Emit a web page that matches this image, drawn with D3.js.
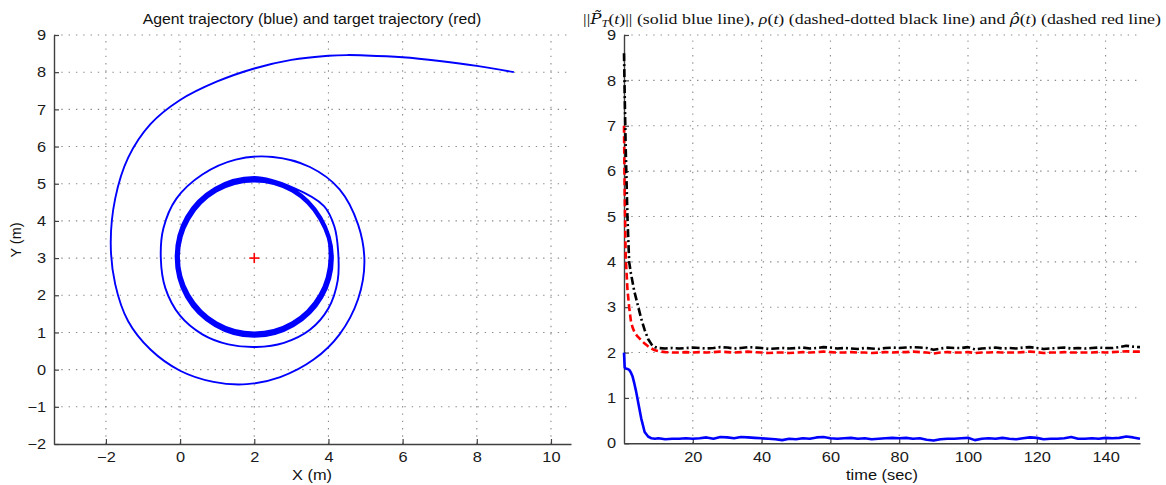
<!DOCTYPE html>
<html>
<head>
<meta charset="utf-8">
<script src="https://cdn.jsdelivr.net/npm/d3@7"></script>
<style>
  html, body { margin: 0; padding: 0; background: #fff; }
  svg { display: block; }
  .tick text { font-family: "Liberation Sans", Arial, sans-serif; font-size: 14.5px; fill: #1a1a1a; }
</style>
</head>
<body>
<svg id="chart" width="1166" height="485"></svg>
<script>
// ---- Left panel: agent trajectory (x, y in metres), counter-clockwise spiral onto the circle
const spiralX = [9.0, 8.0, 7.0, 6.0, 5.0, 4.5, 4.0, 3.0, 2.0, 1.0, 0.0, -0.8, -1.4, -1.75, -1.87, -1.75, -1.4, -0.8, 0.0, 0.9, 1.8, 2.7, 3.6, 4.3, 4.8, 4.97, 4.8, 4.3, 3.5, 2.5, 1.5, 0.6, -0.1, -0.45, -0.52, -0.4, 0.0, 0.6, 1.3, 2.05, 2.8, 3.5, 4.0, 4.25, 4.26, 4.16, 3.88];
const spiralY = [8.0, 8.17, 8.3, 8.4, 8.45, 8.46, 8.44, 8.33, 8.1, 7.75, 7.25, 6.6, 5.7, 4.6, 3.4, 2.3, 1.3, 0.54, -0.03, -0.33, -0.39, -0.2, 0.27, 0.95, 1.9, 2.9, 3.9, 4.85, 5.45, 5.72, 5.65, 5.25, 4.6, 3.8, 3.0, 2.2, 1.45, 0.95, 0.68, 0.61, 0.72, 1.07, 1.65, 2.4, 3.2, 3.85, 4.4];
// laps around the target once the agent has converged
const lapX = [
  [3.06, 2.0, 0.94, 0.164, -0.12, 0.164, 0.94, 2.0, 3.06, 3.836, 4.12],
  [3.81, 3.045, 2.0, 0.955, 0.19, -0.09, 0.19, 0.955, 2.0, 3.045, 3.81, 4.09],
  [3.784, 3.03, 2.0, 0.97, 0.216, -0.06, 0.216, 0.97, 2.0, 3.03, 3.784, 4.06],
  [3.758, 3.015, 2.0, 0.985, 0.242, -0.03, 0.242, 0.985, 2.0, 3.015, 3.758, 4.03],
  [3.80, 3.04, 2.0, 0.96, 0.20, -0.08, 0.20, 0.96, 2.0, 3.04, 3.80, 4.08]
];
const lapY = [
  [4.89, 5.18, 4.89, 4.12, 3.03, 1.94, 1.17, 0.88, 1.17, 1.94, 3.03],
  [4.09, 4.86, 5.14, 4.86, 4.09, 3.03, 1.97, 1.2, 0.92, 1.2, 1.97, 3.03],
  [4.06, 4.82, 5.1, 4.82, 4.06, 3.03, 2.0, 1.24, 0.96, 1.24, 2.0, 3.03],
  [4.04, 4.79, 5.06, 4.79, 4.04, 3.03, 2.02, 1.27, 1.0, 1.27, 2.02, 3.03],
  [4.08, 4.85, 5.12, 4.85, 4.08, 3.03, 1.98, 1.21, 0.93, 1.21, 1.98, 3.03]
];
const targetX = [2];
const targetY = [3];
const leftXTicks = [-2, 0, 2, 4, 6, 8, 10];
const leftYTicks = [-2, -1, 0, 1, 2, 3, 4, 5, 6, 7, 8, 9];

// ---- Right panel: time histories
const time = [0, 0.2, 0.5, 1, 1.5, 2, 2.5, 3, 3.5, 4, 5, 6, 7, 8, 9, 10,
  12, 14, 16, 18, 20, 22, 24, 26, 28, 30, 32, 34, 36, 38, 40, 42, 44, 46, 48, 50,
  52, 54, 56, 58, 60, 62, 64, 66, 68, 70, 72, 74, 76, 78, 80, 82, 84, 86, 88, 90,
  92, 94, 96, 98, 100, 102, 104, 106, 108, 110, 112, 114, 116, 118, 120, 122, 124, 126, 128, 130,
  132, 134, 136, 138, 140, 142, 144, 146, 148, 150];
const errNorm = [2.0, 1.67, 1.65, 1.64, 1.62, 1.56, 1.47, 1.32, 1.15, 0.95, 0.55, 0.25, 0.15, 0.11, 0.1, 0.11,
  0.09, 0.1, 0.1, 0.11, 0.1, 0.11, 0.13, 0.1, 0.14, 0.13, 0.11, 0.14, 0.13, 0.12, 0.11, 0.1, 0.09, 0.07, 0.1, 0.09,
  0.11, 0.1, 0.13, 0.14, 0.11, 0.1, 0.11, 0.12, 0.1, 0.11, 0.09, 0.1, 0.11, 0.12, 0.11, 0.12, 0.1, 0.11, 0.08, 0.06,
  0.09, 0.1, 0.1, 0.11, 0.12, 0.07, 0.1, 0.11, 0.1, 0.12, 0.1, 0.09, 0.11, 0.13, 0.12, 0.09, 0.1, 0.1, 0.11, 0.14,
  0.1, 0.1, 0.11, 0.1, 0.12, 0.11, 0.12, 0.15, 0.13, 0.1];
const rho = [8.6, 7.7, 6.5, 5.0, 4.0, 3.75, 3.55, 3.35, 3.2, 3.05, 2.75, 2.5, 2.3, 2.18, 2.12, 2.1,
  2.09, 2.1, 2.09, 2.1, 2.11, 2.1, 2.09, 2.1, 2.12, 2.11, 2.09, 2.1, 2.12, 2.11, 2.1, 2.08, 2.09, 2.1, 2.09, 2.1,
  2.11, 2.09, 2.1, 2.12, 2.11, 2.09, 2.1, 2.09, 2.08, 2.1, 2.09, 2.08, 2.1, 2.11, 2.1, 2.11, 2.12, 2.11, 2.1, 2.06,
  2.09, 2.11, 2.1, 2.1, 2.12, 2.07, 2.09, 2.1, 2.11, 2.09, 2.1, 2.09, 2.11, 2.12, 2.1, 2.08, 2.09, 2.1, 2.11, 2.09,
  2.1, 2.09, 2.1, 2.11, 2.1, 2.1, 2.12, 2.15, 2.13, 2.12];
const rhoHat = [7.0, 5.5, 4.1, 3.4, 3.0, 2.7, 2.55, 2.46, 2.4, 2.35, 2.27, 2.2, 2.14, 2.09, 2.05, 2.03,
  2.01, 2.0, 2.0, 2.01, 2.0, 2.01, 2.0, 2.01, 2.02, 2.01, 2.0, 2.01, 2.02, 2.01, 2.0, 1.99, 2.0, 2.0, 1.99, 2.0,
  2.01, 2.0, 2.01, 2.02, 2.01, 2.0, 2.0, 2.01, 2.0, 2.0, 1.99, 2.0, 2.01, 2.0, 2.01, 2.01, 2.02, 2.01, 2.0, 1.98,
  2.0, 2.01, 2.0, 2.0, 2.01, 1.99, 2.0, 2.0, 2.01, 2.0, 2.0, 2.0, 2.01, 2.02, 2.01, 1.99, 2.0, 2.0, 2.01, 2.0,
  2.0, 2.0, 2.0, 2.01, 2.0, 2.01, 2.02, 2.03, 2.02, 2.02];
const rightXTicks = [20, 40, 60, 80, 100, 120, 140];
const rightYTicks = [0, 1, 2, 3, 4, 5, 6, 7, 8, 9];

const svg = d3.select("#chart");
const axisColor = "#404040";
const sans = "Liberation Sans, Arial, sans-serif";
const stretch = 1.13;   // the figure's lettering is slightly wide

function drawFrame(g, x, y, xTicks, yTicks) {
  const [x0, x1] = x.range();
  const [y0, y1] = y.range();
  // dotted grid
  const grid = g.append("g").attr("stroke", "#8a8a8a").attr("stroke-width", 1.1)
    .attr("stroke-dasharray", "1.4,5.9").attr("fill", "none");
  grid.selectAll("line.v").data(xTicks).join("line").attr("class", "v")
    .attr("x1", d => x(d)).attr("x2", d => x(d)).attr("y1", y0).attr("y2", y1);
  grid.selectAll("line.h").data(yTicks.filter(d => y(d) < y0 - 0.5)).join("line").attr("class", "h")
    .attr("x1", x0).attr("x2", x1).attr("y1", d => y(d)).attr("y2", d => y(d));

  const fmt = d => d < 0 ? "\u2212" + Math.abs(d) : d;
  const xa = g.append("g").attr("transform", `translate(0,${y0})`)
    .call(d3.axisBottom(x).tickValues(xTicks).tickSizeInner(-5).tickSizeOuter(0).tickPadding(8).tickFormat(fmt));
  const ya = g.append("g").attr("transform", `translate(${x0},0)`)
    .call(d3.axisLeft(y).tickValues(yTicks).tickSizeInner(-5).tickSizeOuter(0).tickPadding(7).tickFormat(fmt));
  [xa, ya].forEach(a => {
    a.select(".domain").attr("stroke", axisColor).attr("stroke-width", 1.4);
    a.selectAll(".tick line").attr("stroke", axisColor).attr("stroke-width", 1.2);
    a.selectAll(".tick text").attr("transform", `scale(${stretch},1)`);
  });
}

function label(g, x, y, txt, rotate) {
  return g.append("text")
    .attr("transform", `translate(${x},${y})` + (rotate ? ` rotate(${rotate})` : ` scale(${stretch},1)`))
    .attr("text-anchor", "middle").attr("font-family", sans).attr("font-size", 14.5).attr("fill", "#111")
    .text(txt);
}

// ---------------- Left panel ----------------
const xL = d3.scaleLinear().domain([-3.4, 10.54]).range([54, 571]);
const yL = d3.scaleLinear().domain([-2, 9]).range([444, 35]);
const gL = svg.append("g");
drawFrame(gL, xL, yL, leftXTicks, leftYTicks);

const pathPts = spiralX.map((v, i) => [v, spiralY[i]]);
lapX.forEach((lx, k) => lx.forEach((v, i) => pathPts.push([v, lapY[k][i]])));
gL.append("path")
  .datum(pathPts)
  .attr("fill", "none").attr("stroke", "#0000ff").attr("stroke-width", 1.9)
  .attr("stroke-linejoin", "round")
  .attr("d", d3.line().x(d => xL(d[0])).y(d => yL(d[1])).curve(d3.curveCatmullRom.alpha(0.5)));

// target marker
gL.selectAll("g.target").data(targetX.map((v, i) => [v, targetY[i]])).join("g")
  .attr("class", "target")
  .attr("transform", d => `translate(${xL(d[0])},${yL(d[1])})`)
  .attr("stroke", "#ff0000").attr("stroke-width", 1.6)
  .each(function () {
    const t = d3.select(this);
    t.append("line").attr("x1", -5).attr("x2", 5).attr("y1", 0).attr("y2", 0);
    t.append("line").attr("x1", 0).attr("x2", 0).attr("y1", -5).attr("y2", 5);
  });

const titleL = gL.append("text").attr("text-anchor", "middle")
  .attr("font-family", sans).attr("font-size", 14.5).attr("fill", "#111")
  .text("Agent trajectory (blue) and target trajectory (red)");
{
  const w = titleL.node().getComputedTextLength();
  const s = w > 0 ? 339 / w : 1;
  titleL.attr("transform", `translate(312,24) scale(${s},1)`);
}
label(gL, 312, 480, "X (m)");
label(gL, 21, 240, "Y (m)", -90);

// ---------------- Right panel ----------------
const xR = d3.scaleLinear().domain([0, 150]).range([624, 1140]);
const yR = d3.scaleLinear().domain([0, 9]).range([443.3, 35]);
const gR = svg.append("g");
drawFrame(gR, xR, yR, rightXTicks, rightYTicks);

const lineR = d3.line().x(d => xR(d[0])).y(d => yR(d[1]));
const series = [
  { vals: rhoHat, color: "#ff0000", dash: "7,3.5" },
  { vals: rho, color: "#000000", dash: "8,3,2,3" },
  { vals: errNorm, color: "#0000ff", dash: null }
];
gR.selectAll("path.series").data(series).join("path")
  .attr("class", "series")
  .attr("fill", "none")
  .attr("stroke", d => d.color)
  .attr("stroke-width", 2.6)
  .attr("stroke-linejoin", "round")
  .attr("stroke-dasharray", d => d.dash)
  .attr("d", d => lineR(time.map((t, i) => [t, d.vals[i]])));

label(gR, 882, 480, "time (sec)");

// title with math notation (accented symbols set in DejaVu Serif for the combining marks)
const title = gR.append("text").attr("text-anchor", "middle")
  .attr("font-family", "Liberation Serif, serif").attr("font-size", 15).attr("fill", "#111");
const parts = [
  ["||", null], ["P\u0303", "acc"], ["T", "sub"], ["(", "up"], ["t", "it"], [")||", null],
  [" (solid blue line), ", null], ["\u03C1", "it"], ["(", null], ["t", "it"], [")", null],
  [" (dashed-dotted black line) and ", null], ["\u03C1\u0302", "acc"], ["(", null], ["t", "it"], [")", null],
  [" (dashed red line)", null]
];
parts.forEach(([s, kind]) => {
  const ts = title.append("tspan").text(s);
  if (kind === "it") ts.attr("font-style", "italic");
  if (kind === "acc") ts.attr("font-style", "italic").attr("font-family", "DejaVu Serif, serif").attr("font-size", 14);
  if (kind === "sub") ts.attr("font-style", "italic").attr("font-size", 10.5).attr("dy", 3);
  if (kind === "up") ts.attr("dy", -3);
});
{
  const w = title.node().getComputedTextLength();
  const s = w > 0 ? 578 / w : 1;
  title.attr("transform", `translate(872,24) scale(${s},1)`);
}
</script>
</body>
</html>
